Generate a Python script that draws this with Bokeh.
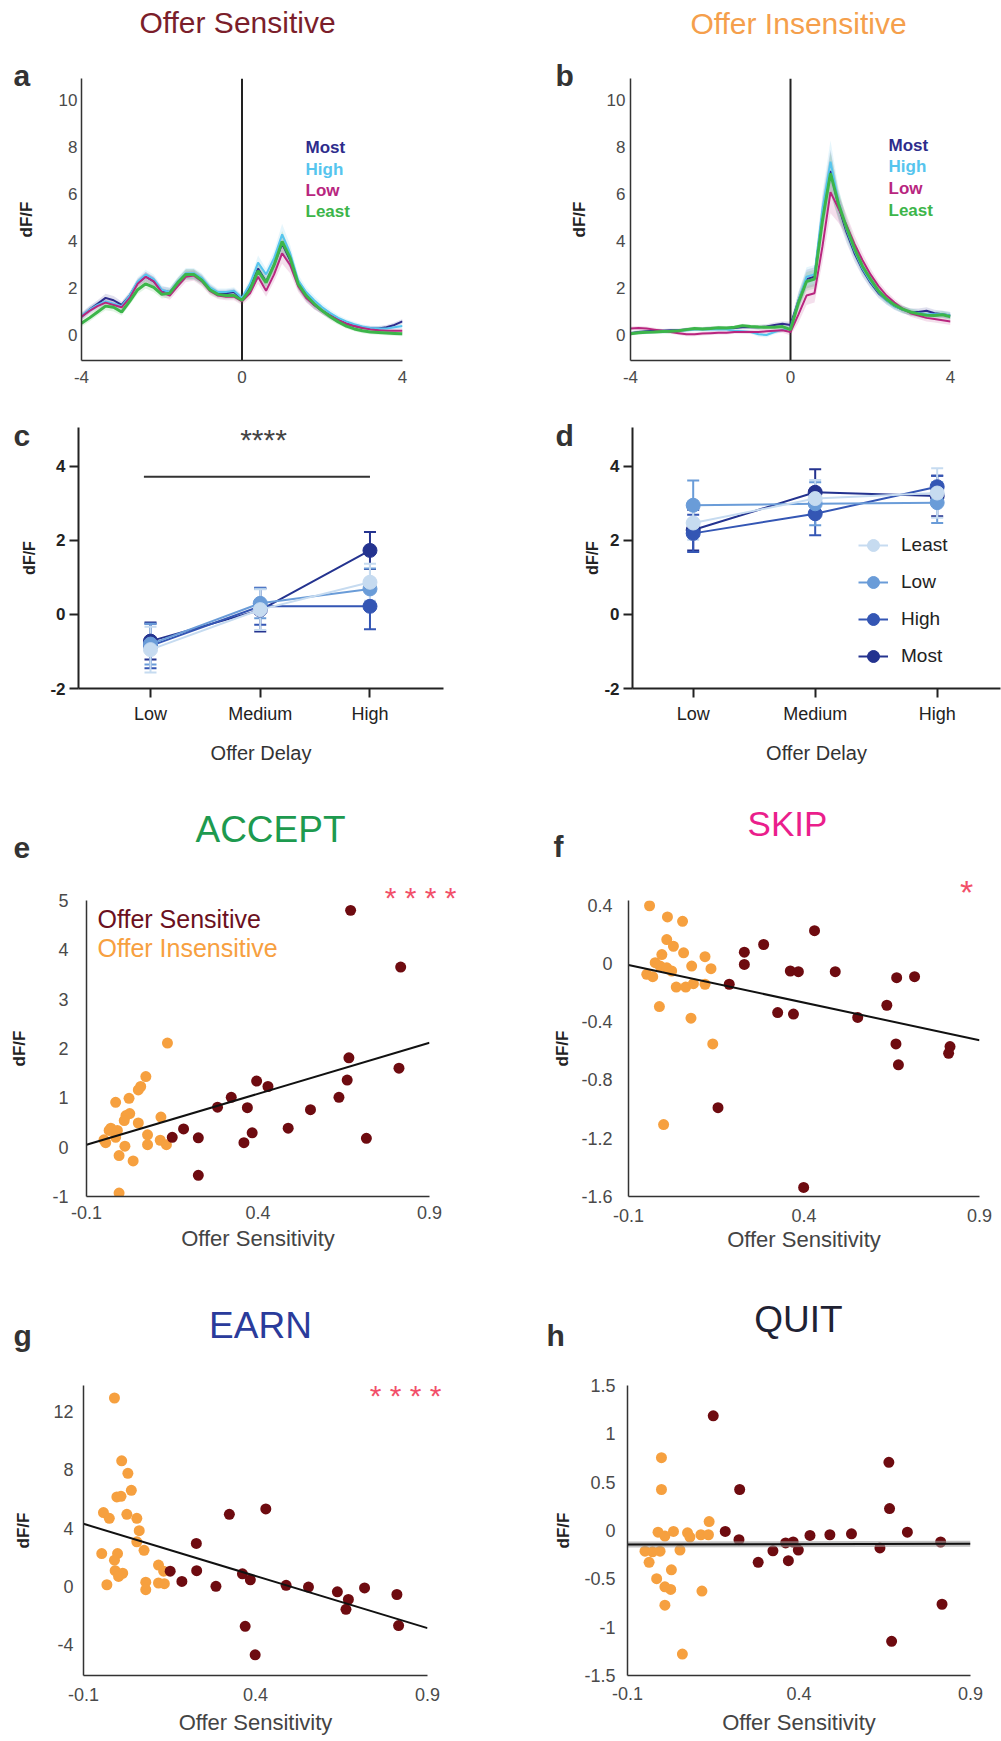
from bokeh.plotting import figure
from bokeh.layouts import column, row
from bokeh.models import (Label, Span, Whisker, TeeHead, ColumnDataSource, FixedTicker,
                          Legend, LegendItem, Range1d)
from bokeh.embed import file_html
from bokeh.resources import INLINE

FONT = "Liberation Sans"

# ---------------- data: traces (panels a, b) ----------------
TIME = [-4.0, -3.8, -3.6, -3.4, -3.2, -3.0, -2.8, -2.6, -2.4, -2.2, -2.0, -1.8, -1.6, -1.4,
        -1.2, -1.0, -0.8, -0.6, -0.4, -0.2, 0.0, 0.2, 0.4, 0.6, 0.8, 1.0, 1.2, 1.4, 1.6, 1.8,
        2.0, 2.2, 2.4, 2.6, 2.8, 3.0, 3.2, 3.4, 3.6, 3.8, 4.0]
TRACE_NAMES = ["Most", "High", "Low", "Least"]

a_most = [0.8, 1.1, 1.35, 1.6, 1.5, 1.3, 1.7, 2.25, 2.5, 2.3, 1.9, 1.85, 2.25, 2.6, 2.6, 2.4, 2.0,
          1.8, 1.8, 1.85, 1.55, 2.05, 2.85, 2.3, 3.0, 3.9, 3.2, 2.2, 1.65, 1.3, 1.05, 0.85, 0.65,
          0.5, 0.4, 0.33, 0.3, 0.3, 0.35, 0.45, 0.6]
a_high = [0.85, 1.1, 1.3, 1.45, 1.35, 1.25, 1.7, 2.3, 2.6, 2.4, 1.95, 1.85, 2.3, 2.65, 2.65, 2.45,
          2.05, 1.85, 1.85, 1.9, 1.6, 2.2, 3.1, 2.6, 3.3, 4.3, 3.5, 2.35, 1.85, 1.5, 1.2, 0.95,
          0.75, 0.6, 0.48, 0.38, 0.32, 0.3, 0.3, 0.35, 0.4]
a_low = [0.8, 1.05, 1.25, 1.4, 1.3, 1.2, 1.6, 2.2, 2.5, 2.3, 1.85, 1.7, 2.1, 2.5, 2.55, 2.3, 1.9,
         1.7, 1.65, 1.65, 1.45, 1.8, 2.5, 1.9, 2.6, 3.5, 3.0, 2.1, 1.6, 1.3, 1.05, 0.85, 0.65,
         0.5, 0.4, 0.32, 0.26, 0.22, 0.2, 0.2, 0.2]
a_least = [0.52, 0.75, 1.0, 1.25, 1.2, 1.0, 1.45, 1.95, 2.2, 2.05, 1.75, 1.8, 2.25, 2.6, 2.6, 2.35,
           1.95, 1.75, 1.7, 1.7, 1.5, 1.95, 2.75, 2.25, 3.0, 4.0, 3.3, 2.2, 1.7, 1.35, 1.05, 0.8,
           0.58, 0.4, 0.28, 0.2, 0.15, 0.13, 0.11, 0.09, 0.07]
a_sem = [0.15, 0.15, 0.15, 0.18, 0.18, 0.15, 0.15, 0.18, 0.2, 0.2, 0.18, 0.18, 0.2, 0.22, 0.22,
         0.2, 0.18, 0.15, 0.15, 0.15, 0.15, 0.2, 0.3, 0.25, 0.3, 0.45, 0.35, 0.25, 0.2, 0.18,
         0.15, 0.15, 0.12, 0.1, 0.1, 0.1, 0.1, 0.1, 0.1, 0.1, 0.1]

b_most = [0.1, 0.15, 0.18, 0.2, 0.2, 0.22, 0.22, 0.25, 0.28, 0.28, 0.3, 0.3, 0.3, 0.32, 0.35, 0.35,
          0.35, 0.38, 0.45, 0.5, 0.45, 1.5, 2.4, 2.5, 5.2, 7.0, 5.5, 4.4, 3.5, 2.8, 2.25, 1.8,
          1.5, 1.25, 1.1, 1.0, 1.0, 1.05, 0.95, 0.9, 0.85]
b_high = [0.1, 0.12, 0.14, 0.15, 0.15, 0.18, 0.2, 0.22, 0.25, 0.25, 0.25, 0.25, 0.25, 0.2, 0.18,
          0.15, 0.05, 0.02, 0.15, 0.25, 0.3, 1.5, 2.5, 2.6, 5.4, 7.4, 5.7, 4.5, 3.6, 2.85, 2.3,
          1.85, 1.5, 1.25, 1.1, 1.0, 0.95, 0.9, 0.9, 0.9, 0.85]
b_low = [0.3, 0.32, 0.3, 0.25, 0.2, 0.15, 0.1, 0.05, 0.05, 0.08, 0.1, 0.12, 0.12, 0.15, 0.15, 0.15,
         0.15, 0.18, 0.2, 0.22, 0.15, 0.9, 1.7, 1.8, 3.8, 6.1, 5.4, 4.7, 3.9, 3.2, 2.6, 2.1, 1.7,
         1.4, 1.15, 0.95, 0.85, 0.75, 0.7, 0.65, 0.6]
b_least = [0.07, 0.12, 0.14, 0.15, 0.17, 0.18, 0.2, 0.25, 0.3, 0.28, 0.3, 0.33, 0.32, 0.35, 0.42,
           0.38, 0.36, 0.35, 0.35, 0.38, 0.25, 1.4, 2.3, 2.4, 4.9, 6.9, 5.6, 4.6, 3.7, 2.95, 2.4,
           1.9, 1.55, 1.3, 1.12, 1.0, 0.92, 0.86, 0.85, 0.88, 0.8]
b_sem = [0.08, 0.08, 0.08, 0.08, 0.08, 0.08, 0.08, 0.08, 0.08, 0.08, 0.08, 0.08, 0.08, 0.08, 0.08,
         0.08, 0.1, 0.1, 0.1, 0.1, 0.15, 0.35, 0.4, 0.4, 0.7, 0.9, 0.6, 0.45, 0.35, 0.3, 0.25,
         0.2, 0.18, 0.15, 0.15, 0.15, 0.15, 0.15, 0.15, 0.15, 0.15]

# ---------------- data: offer delay (panels c, d) ----------------
CATEGORIES = ["Low", "Medium", "High"]
DELAY_NAMES = ["Least", "Low", "High", "Most"]

c_least = [-0.95, 0.13, 0.87]
c_least_err = [0.62, 0.55, 0.5]
c_low = [-0.8, 0.3, 0.69]
c_low_err = [0.55, 0.4, 0.55]
c_high = [-0.85, 0.22, 0.22]
c_high_err = [0.6, 0.5, 0.62]
c_most = [-0.72, 0.12, 1.73]
c_most_err = [0.5, 0.58, 0.5]

d_least = [2.47, 3.13, 3.28]
d_least_err = [0.45, 0.5, 0.67]
d_low = [2.95, 2.99, 3.02]
d_low_err = [0.67, 0.58, 0.55]
d_high = [2.19, 2.72, 3.45]
d_high_err = [0.5, 0.58, 0.3]
d_most = [2.28, 3.3, 3.2]
d_most_err = [0.55, 0.62, 0.55]

# ---------------- data: offer sensitivity scatter (panels e-h) ----------------
e_sens_x = [0.670, 0.816, 0.665, 0.811, 0.660, 0.636, 0.553, 0.716, 0.488, 0.396, 0.429, 0.322,
            0.369, 0.282, 0.383, 0.359, 0.226, 0.183, 0.150, 0.226]
e_sens_y = [4.80, 3.65, 1.81, 1.60, 1.36, 1.01, 0.76, 0.18, 0.385, 1.34, 1.23, 1.01, 0.80, 0.81,
            0.29, 0.09, 0.19, 0.37, 0.20, -0.57]
e_ins_x = [0.136, 0.073, 0.058, 0.051, -0.015, 0.024, 0.026, 0.015, 0.010, 0.117, 0.051, -0.029,
           -0.034, -0.010, -0.015, -0.049, -0.044, 0.078, 0.078, 0.115, 0.133, 0.012, -0.005,
           0.036, -0.005]
e_ins_y = [2.11, 1.43, 1.23, 1.16, 0.91, 0.99, 0.68, 0.64, 0.54, 0.61, 0.49, 0.385, 0.34, 0.34,
           0.20, 0.15, 0.09, 0.25, 0.05, 0.14, 0.05, 0.02, -0.17, -0.28, -0.93]
e_fit_y = [0.05, 2.115]

f_sens_x = [0.430, 0.285, 0.230, 0.230, 0.361, 0.384, 0.489, 0.187, 0.664, 0.715, 0.325, 0.370,
            0.553, 0.636, 0.662, 0.669, 0.816, 0.812, 0.155, 0.399]
f_sens_y = [0.225, 0.130, 0.077, -0.007, -0.052, -0.057, -0.057, -0.143, -0.098, -0.091, -0.337,
            -0.348, -0.371, -0.287, -0.553, -0.696, -0.571, -0.617, -0.990, -1.538]
f_ins_x = [-0.040, 0.011, 0.054, 0.009, 0.028, 0.057, -0.005, 0.118, -0.024, -0.010, 0.009, 0.023,
           0.080, 0.135, -0.048, -0.031, 0.036, 0.063, 0.085, 0.118, -0.012, 0.078, 0.140, 0.0]
f_ins_y = [0.396, 0.319, 0.289, 0.164, 0.118, 0.073, 0.061, 0.046, 0.005, -0.018, -0.030, -0.052,
           -0.018, -0.036, -0.075, -0.091, -0.162, -0.162, -0.139, -0.143, -0.296, -0.376,
           -0.553, -1.106]
f_fit_y = [-0.011, -0.527]

g_sens_x = [0.430, 0.324, 0.228, 0.229, 0.152, 0.186, 0.285, 0.362, 0.385, 0.489, 0.554, 0.638,
            0.670, 0.663, 0.717, 0.811, 0.816, 0.370, 0.399]
g_sens_y = [5.32, 4.95, 2.95, 1.08, 1.04, 0.34, 0.0, 0.86, 0.45, 0.07, -0.05, -0.38, -0.90, -1.58,
            -0.11, -0.56, -2.70, -2.75, -4.71]
g_ins_x = [-0.010, 0.011, 0.029, 0.039, -0.003, 0.009, -0.042, -0.025, 0.026, 0.055, 0.062, 0.055,
           0.076, -0.047, -0.001, -0.010, -0.008, 0.014, 0.002, 0.118, 0.133, -0.032, 0.081,
           0.081, 0.118, 0.135]
g_ins_y = [12.95, 8.63, 7.77, 6.60, 6.15, 6.19, 5.07, 4.68, 4.95, 4.68, 3.83, 3.06, 2.48, 2.25,
           2.25, 1.80, 1.08, 0.90, 0.68, 1.46, 1.04, 0.11, 0.29, -0.23, 0.23, 0.18]
g_fit_y = [4.30, -2.87]

h_sens_x = [0.150, 0.227, 0.185, 0.225, 0.281, 0.324, 0.361, 0.383, 0.369, 0.398, 0.432, 0.490,
            0.553, 0.662, 0.664, 0.636, 0.716, 0.813, 0.817, 0.670]
h_sens_y = [1.186, 0.424, -0.010, -0.095, -0.329, -0.210, -0.129, -0.119, -0.312, -0.203, -0.051,
            -0.044, -0.034, 0.705, 0.227, -0.180, -0.017, -0.119, -0.763, -1.146]
h_ins_x = [-0.001, -0.001, 0.138, -0.011, 0.009, 0.034, 0.075, 0.082, 0.114, 0.136, -0.049,
           -0.027, -0.005, 0.053, -0.037, 0.028, -0.015, 0.009, 0.026, 0.117, 0.009, 0.060]
h_ins_y = [0.753, 0.424, 0.092, -0.017, -0.058, -0.010, -0.024, -0.068, -0.044, -0.044, -0.214,
           -0.220, -0.214, -0.203, -0.329, -0.407, -0.498, -0.583, -0.610, -0.627, -0.773,
           -1.278]
h_fit_y = [-0.146, -0.138]

FIT_X = [-0.1, 0.9]
SENS_TICKS = [-0.1, 0.4, 0.9]

# ---------------- styles ----------------
T_COLORS = {"Most": "#2e2c8c", "High": "#56c5ee", "Low": "#b8267f", "Least": "#3cb54a"}
D_COLORS = {"Least": "#c6dbf0", "Low": "#6a9cd8", "High": "#3456b4", "Most": "#24338f"}
SENS_C = "#6e0b10"
INS_C = "#f6a03f"
STAR_RED = "#f2506a"
LETTER_C = "#333333"


def fmt(ticks):
    return {t: f"{t:g}" for t in ticks}


def make_fig(W, H, L, R, T, B, xr, yr):
    p = figure(width=W, height=H, x_range=Range1d(*xr), y_range=Range1d(*yr),
               output_backend="svg", toolbar_location=None,
               min_border_left=L, min_border_right=R, min_border_top=T, min_border_bottom=B)
    p.outline_line_color = None
    p.xgrid.visible = False
    p.ygrid.visible = False
    p.background_fill_color = "white"
    p.border_fill_color = "white"
    return p


def put(p, frame, ax, ay, text, size, color, style="normal", align="left"):
    fl, fb = frame
    p.add_layout(Label(x=ax - fl, y=fb - ay, x_units="screen", y_units="screen", text=text,
                       text_font=FONT, text_font_size=f"{size}px", text_color=color,
                       text_font_style=style, text_align=align, text_baseline="middle"))


def style_axis(ax, ticks, size, color="#4a4a4a", style="normal", line_w=1.5, line_c="#333333",
               tick_out=0, standoff=5, overrides=None):
    ax.ticker = FixedTicker(ticks=ticks)
    ax.axis_line_color = line_c
    ax.axis_line_width = line_w
    ax.minor_tick_line_color = None
    ax.major_tick_in = 0
    if tick_out:
        ax.major_tick_out = tick_out
        ax.major_tick_line_color = line_c
        ax.major_tick_line_width = line_w
    else:
        ax.major_tick_out = 0
        ax.major_tick_line_color = None
    ax.major_label_text_font = FONT
    ax.major_label_text_font_size = f"{size}px"
    ax.major_label_text_color = color
    ax.major_label_text_font_style = style
    ax.major_label_standoff = standoff
    ax.major_label_overrides = overrides if overrides is not None else fmt(ticks)


def set_label(ax, text, size, color, style, standoff):
    ax.axis_label = text
    ax.axis_label_text_font = FONT
    ax.axis_label_text_font_size = f"{size}px"
    ax.axis_label_text_color = color
    ax.axis_label_text_font_style = style
    ax.axis_label_standoff = standoff


# ---------------- panels a, b ----------------
def trace_panel(W, L, R, series, sem, ylab_standoff, tick_standoff):
    p = make_fig(W, 400, L, R, 78, 40, (-4, 4), (-1.064, 10.936))
    p.add_layout(Span(location=0, dimension="height", line_color="#222222", line_width=2,
                      level="underlay"))
    for name, vals in series:
        lo = [v - s for v, s in zip(vals, sem)]
        hi = [v + s for v, s in zip(vals, sem)]
        p.varea(x=TIME, y1=lo, y2=hi, fill_color=T_COLORS[name], fill_alpha=0.15)
    for name, vals in series:
        p.line(TIME, vals, line_color=T_COLORS[name], line_width=3 if name == "Least" else 2)
    style_axis(p.xaxis[0], [-4, 0, 4], 17, standoff=10)
    style_axis(p.yaxis[0], [0, 2, 4, 6, 8, 10], 17, standoff=tick_standoff)
    set_label(p.yaxis[0], "dF/F", 17, "#222222", "bold", ylab_standoff)
    return p


FA = (81, 360)
pa = trace_panel(500, 81, 98,
                 [("Most", a_most), ("High", a_high), ("Low", a_low), ("Least", a_least)],
                 a_sem, 20, 4)
for name, yy in zip(TRACE_NAMES, [147, 169, 190, 211]):
    put(pa, FA, 305, yy, name, 17, T_COLORS[name], "bold")

FB = (630, 360)
pb = trace_panel(501, 130, 51,
                 [("Most", b_most), ("High", b_high), ("Low", b_low), ("Least", b_least)],
                 b_sem, 15, 5)
for name, yy in zip(TRACE_NAMES, [145, 166, 188, 210]):
    put(pb, FB, 888, yy, name, 17, T_COLORS[name], "bold")


# ---------------- panels c, d ----------------
POS = [0, 1, 2]


def delay_panel(W, L, R, xr, series, ylab_standoff):
    p = make_fig(W, 380, L, R, 27, 92, xr, (-2, 5.05))
    rends = {}
    for name, vals, errs in series:
        col = D_COLORS[name]
        src = ColumnDataSource(dict(x=POS, y=vals,
                                    up=[v + e for v, e in zip(vals, errs)],
                                    lo=[v - e for v, e in zip(vals, errs)]))
        p.add_layout(Whisker(source=src, base="x", upper="up", lower="lo", line_color=col,
                             line_width=2,
                             upper_head=TeeHead(size=12, line_color=col, line_width=2),
                             lower_head=TeeHead(size=12, line_color=col, line_width=2)))
        lr = p.line("x", "y", source=src, line_color=col, line_width=2)
        sr = p.scatter("x", "y", source=src, size=14, fill_color=col, line_color=col)
        rends[name] = [lr, sr]
    style_axis(p.xaxis[0], POS, 18, color="#222222", line_w=2, line_c="#222222", tick_out=9,
               standoff=6, overrides={i: c for i, c in zip(POS, CATEGORIES)})
    style_axis(p.yaxis[0], [-2, 0, 2, 4], 17, color="#222222", style="bold", line_w=2,
               line_c="#222222", tick_out=9, standoff=4)
    set_label(p.xaxis[0], "Offer Delay", 20, "#333333", "normal", 15)
    set_label(p.yaxis[0], "dF/F", 16, "#222222", "bold", ylab_standoff)
    return p, rends


pc, _ = delay_panel(500, 78, 57, (-0.656, 2.67),
                    [("Most", c_most, c_most_err), ("High", c_high, c_high_err),
                     ("Low", c_low, c_low_err), ("Least", c_least, c_least_err)], 9)
pc.segment(x0=[-0.06], y0=[3.72], x1=[2.0], y1=[3.72], line_color="#333333", line_width=2)

pd_, drends = delay_panel(501, 132, 1, (-0.4975, 2.519),
                          [("Most", d_most, d_most_err), ("High", d_high, d_high_err),
                           ("Low", d_low, d_low_err), ("Least", d_least, d_least_err)], 0)
legend = Legend(items=[LegendItem(label=n, renderers=drends[n]) for n in DELAY_NAMES],
                location=(226, 17), orientation="vertical", glyph_width=30, glyph_height=30,
                label_height=30, spacing=7, padding=0, margin=0, label_standoff=13,
                label_text_font=FONT, label_text_font_size="19px", label_text_color="#222222",
                border_line_color=None, background_fill_alpha=0)
pd_.add_layout(legend)


# ---------------- panels e-h ----------------
def scatter_panel(W, H, L, R, T, B, yr, yticks, ins, sens, fit_y, ystand, ylab_stand,
                  xstand, xlab_stand, band=False):
    p = make_fig(W, H, L, R, T, B, (-0.1, 0.9), yr)
    p.scatter(ins[0], ins[1], size=11, fill_color=INS_C, line_color=None)
    p.scatter(sens[0], sens[1], size=11, fill_color=SENS_C, line_color=None)
    if band:
        p.line(FIT_X, fit_y, line_color="#9a9a9a", line_width=6, line_alpha=0.6)
    p.line(FIT_X, fit_y, line_color="#111111", line_width=2)
    style_axis(p.xaxis[0], SENS_TICKS, 18, standoff=xstand)
    style_axis(p.yaxis[0], yticks, 18, standoff=ystand)
    set_label(p.xaxis[0], "Offer Sensitivity", 22, "#444444", "normal", xlab_stand)
    set_label(p.yaxis[0], "dF/F", 17, "#222222", "bold", ylab_stand)
    return p


FE = (86, 1196)
pe = scatter_panel(500, 480, 86, 71, 120, 64, (-1, 5), [-1, 0, 1, 2, 3, 4, 5],
                   (e_ins_x, e_ins_y), (e_sens_x, e_sens_y), e_fit_y, 18, 20, 9, 4)
put(pe, FE, 97, 918, "Offer Sensitive", 25, "#6b1020")
put(pe, FE, 97, 947, "Offer Insensitive", 25, "#f7a040")

pf = scatter_panel(501, 480, 128, 22, 117, 64, (-1.6, 0.432), [-1.6, -1.2, -0.8, -0.4, 0, 0.4],
                   (f_ins_x, f_ins_y), (f_sens_x, f_sens_y), f_fit_y, 16, 6, 12, 2)

pg = scatter_panel(500, 481, 83, 73, 125, 61, (-6.13, 13.81), [-4, 0, 4, 8, 12],
                   (g_ins_x, g_ins_y), (g_sens_x, g_sens_y), g_fit_y, 10, 17, 12, 6)

ph = scatter_panel(501, 481, 127, 31, 118, 66, (-1.5, 1.5), [-1.5, -1, -0.5, 0, 0.5, 1, 1.5],
                   (h_ins_x, h_ins_y), (h_sens_x, h_sens_y), h_fit_y, 12, 8, 11, 7, band=True)

# ---------------- page-level text overlay (titles, panel letters, significance) ----------------
ov = figure(width=1001, height=1741, x_range=Range1d(0, 1001), y_range=Range1d(1741, 0),
            output_backend="svg", toolbar_location=None, min_border=0,
            x_axis_location=None, y_axis_location=None)
ov.outline_line_color = None
ov.xgrid.visible = False
ov.ygrid.visible = False
ov.background_fill_alpha = 0
ov.border_fill_alpha = 0
ov.margin = (-1741, 0, 0, 0)


def otext(x, y, text, size, color, style="normal", align="center"):
    ov.add_layout(Label(x=x, y=y, text=text, text_font=FONT, text_font_size=f"{size}px",
                        text_color=color, text_font_style=style, text_align=align,
                        text_baseline="middle"))


otext(237, 22, "Offer Sensitive", 30, "#7b1e2b")
otext(798, 23, "Offer Insensitive", 30, "#f59f4c")
otext(270, 829, "ACCEPT", 37, "#1d9a4f")
otext(787, 823, "SKIP", 35, "#ea1e8c")
otext(260, 1325, "EARN", 37, "#2a3b9b")
otext(798, 1319, "QUIT", 37, "#1f2233")

for letter, lx, ly in [("a", 13, 75), ("b", 555, 75), ("c", 13, 435), ("d", 555, 435),
                       ("e", 13, 847), ("f", 553, 846), ("g", 13, 1335), ("h", 546, 1335)]:
    otext(lx, ly, letter, 30, LETTER_C, "bold", "left")

otext(263, 439, "****", 30, "#444444")
otext(420, 897, "* * * *", 30, STAR_RED)
otext(405, 1395, "* * * *", 30, STAR_RED)
otext(966, 891, "*", 34, STAR_RED)

layout = column(row(pa, pb), row(pc, pd_), row(pe, pf), row(pg, ph), ov)
open("out.html", "w").write(file_html(layout, INLINE))
